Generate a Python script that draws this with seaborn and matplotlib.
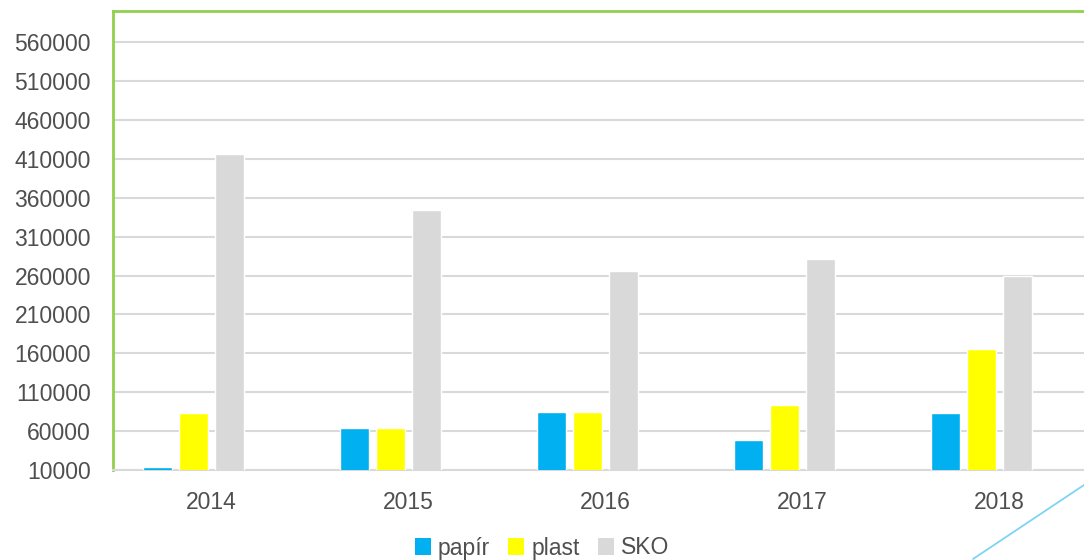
import matplotlib
matplotlib.use("Agg")
import matplotlib.pyplot as plt
import seaborn as sns
import pandas as pd
import numpy as np
from matplotlib.lines import Line2D
from matplotlib.patches import Patch

years = ["2014", "2015", "2016", "2017", "2018"]
papir = [14000, 64000, 84000, 48000, 83000]
plast = [83000, 64000, 84000, 94000, 165000]
sko = [416000, 344000, 266000, 281000, 259000]
series_names = ["papír", "plast", "SKO"]
y_ticks = [10000, 60000, 110000, 160000, 210000, 260000, 310000, 360000, 410000, 460000, 510000, 560000]

colors = {"papír": "#00B0F0", "plast": "#FFFF00", "SKO": "#D9D9D9", " ": "#FFFFFF"}

rows = []
for name, vals in zip(series_names, [papir, plast, sko]):
    for y, v in zip(years, vals):
        rows.append({"year": y, "series": name, "value": v})
# empty fourth series (reserves space, as in the original chart)
for y in years:
    rows.append({"year": y, "series": " ", "value": np.nan})
df = pd.DataFrame(rows)

sns.set_theme(style="white")
plt.rcParams["font.family"] = ["Liberation Sans", "DejaVu Sans"]

fig = plt.figure(figsize=(10.84, 5.6), dpi=100)
ax = fig.add_axes([113 / 1084, 90 / 560, 985 / 1084, 459 / 560])

sns.barplot(data=df, x="year", y="value", hue="series",
            hue_order=series_names + [" "], order=years,
            palette=colors, width=0.731, gap=0.22, errorbar=None,
            saturation=1, ax=ax, legend=False, zorder=3)

ax.set_ylim(10000, 600000)
ax.set_xlim(-0.5, 4.5)
ax.set_yticks(y_ticks)
ax.set_yticklabels([str(t) for t in y_ticks])
ax.yaxis.grid(True, color="#D9D9D9", linewidth=1.5, zorder=0)
ax.set_axisbelow(True)
ax.set_xlabel("")
ax.set_ylabel("")
ax.tick_params(axis="both", length=0, labelsize=16.5, colors="#4F4F4F")
ax.tick_params(axis="y", pad=16)
ax.tick_params(axis="x", pad=15)

for s in ["left", "top"]:
    ax.spines[s].set_color("#92D050")
    ax.spines[s].set_linewidth(2)
ax.spines["right"].set_visible(False)
ax.spines["bottom"].set_color("#D9D9D9")
ax.spines["bottom"].set_linewidth(1.5)

handles = [Patch(facecolor=colors[n], edgecolor="none") for n in series_names]
fig.legend(handles, series_names, loc="center", bbox_to_anchor=(0.5, 12 / 560),
           ncol=3, frameon=False, fontsize=16.5, labelcolor="#4F4F4F",
           handlelength=0.7, handleheight=0.7, handletextpad=0.3,
           columnspacing=0.8, borderpad=0)

fig.add_artist(Line2D([1084 / 1084, 973 / 1084], [1 - 485 / 560, 1 - 559 / 560],
                      transform=fig.transFigure, color="#7FD3F2", linewidth=1.3))

fig.savefig("out.png", dpi=100)
